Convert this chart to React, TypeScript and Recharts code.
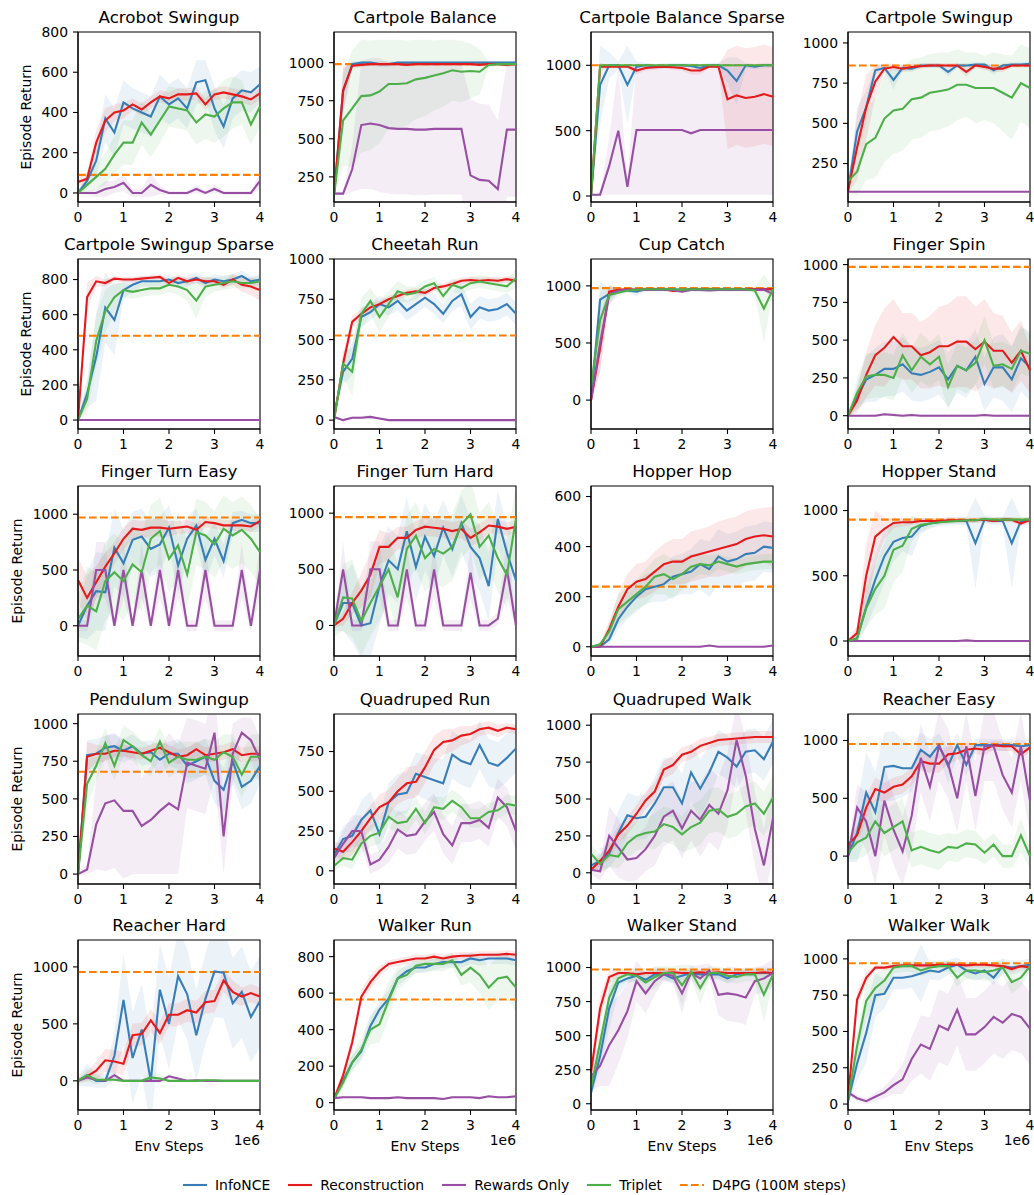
import React from 'react';
import { ComposedChart, Line, Area, XAxis, YAxis, ReferenceLine, ReferenceArea } from 'recharts';

// env steps, in units of 1e6
const steps = [0, 0.2, 0.4, 0.6, 0.8, 1, 1.2, 1.4, 1.6, 1.8, 2, 2.2, 2.4, 2.6, 2.8, 3, 3.2, 3.4, 3.6, 3.8, 4];

const seriesNames = ['InfoNCE', 'Reconstruction', 'Rewards Only', 'Triplet'];
const seriesColors = ['#377eb8', '#e41a1c', '#984ea3', '#4daf4a'];

const titles = [
  'Acrobot Swingup', 'Cartpole Balance', 'Cartpole Balance Sparse', 'Cartpole Swingup',
  'Cartpole Swingup Sparse', 'Cheetah Run', 'Cup Catch', 'Finger Spin',
  'Finger Turn Easy', 'Finger Turn Hard', 'Hopper Hop', 'Hopper Stand',
  'Pendulum Swingup', 'Quadruped Run', 'Quadruped Walk', 'Reacher Easy',
  'Reacher Hard', 'Walker Run', 'Walker Stand', 'Walker Walk',
];

// D4PG (100M steps) reference level, null where it is off the chart
const d4pg = [90, 990, 1000, 860, 480, 525, 980, 985, 970, 965, 240, 930, 680, null, null, 970, 955, 565, 985, 970];

const yLimits = [
  [-45, 800], [85, 1201], [-46, 1255], [11, 1068],
  [-51, 917], [-55, 1000], [-253, 1235], [-88, 1037],
  [-271, 1253], [-272, 1242], [-37, 642], [-115, 1188],
  [-66, 1064], [-83, 986], [-76, 1076], [-241, 1229],
  [-256, 1236], [-40, 891], [-46, 1202], [-41, 1130],
];

const yTicks = [
  [0, 200, 400, 600, 800], [250, 500, 750, 1000], [0, 500, 1000], [250, 500, 750, 1000],
  [0, 200, 400, 600, 800], [0, 250, 500, 750, 1000], [0, 500, 1000], [0, 250, 500, 750, 1000],
  [0, 500, 1000], [0, 500, 1000], [0, 200, 400, 600], [0, 500, 1000],
  [0, 250, 500, 750, 1000], [0, 250, 500, 750], [0, 250, 500, 750, 1000], [0, 500, 1000],
  [0, 500, 1000], [0, 200, 400, 600, 800], [0, 250, 500, 750, 1000], [0, 250, 500, 750, 1000],
];

// mean returns: [InfoNCE, Reconstruction, Rewards Only, Triplet]
const acrobotMean = [
  [0, 60, 160, 370, 300, 450, 420, 400, 380, 480, 440, 470, 420, 550, 560, 420, 330, 470, 510, 500, 540],
  [55, 70, 250, 360, 400, 410, 440, 415, 450, 480, 470, 490, 490, 495, 440, 490, 500, 490, 480, 465, 495],
  [0, 0, 0, 20, 30, 50, 0, 0, 40, 15, 0, 0, 0, 20, 0, 20, 0, 0, 0, 0, 60],
  [0, 40, 80, 120, 190, 250, 250, 350, 290, 360, 430, 420, 410, 350, 390, 380, 420, 450, 450, 340, 430],
];
const acrobotSpread = [
  [10, 40, 80, 120, 120, 110, 100, 100, 100, 110, 100, 100, 100, 110, 100, 110, 110, 100, 100, 100, 90],
  [20, 30, 60, 60, 40, 40, 30, 30, 30, 30, 30, 30, 30, 30, 30, 30, 30, 30, 30, 30, 30],
  [5, 10, 20, 40, 30, 40, 20, 20, 60, 20, 10, 10, 10, 20, 10, 20, 10, 10, 10, 10, 40],
  [10, 40, 60, 80, 90, 110, 110, 110, 110, 110, 100, 100, 100, 110, 120, 130, 140, 130, 110, 100, 100],
];

const balanceMean = [
  [130, 810, 990, 1000, 1000, 990, 990, 1000, 1000, 1000, 1000, 1000, 1000, 1000, 1000, 1000, 1000, 1000, 1000, 1000, 1000],
  [130, 820, 980, 985, 990, 990, 990, 990, 985, 990, 990, 990, 990, 990, 990, 990, 985, 990, 990, 985, 990],
  [140, 140, 300, 590, 600, 590, 570, 565, 565, 560, 560, 565, 565, 565, 565, 260, 230, 225, 170, 560, 560],
  [130, 620, 700, 780, 785, 810, 860, 860, 865, 890, 900, 915, 930, 950, 940, 945, 940, 985, 990, 990, 990],
];
const balanceSpread = [
  [10, 150, 20, 10, 10, 20, 20, 10, 10, 10, 10, 10, 10, 10, 10, 10, 10, 10, 10, 10, 10],
  [10, 150, 20, 15, 10, 10, 10, 10, 10, 10, 10, 10, 10, 10, 10, 10, 10, 10, 10, 10, 10],
  [10, 10, 150, 420, 430, 440, 430, 430, 430, 430, 430, 430, 430, 430, 430, 500, 500, 500, 450, 440, 440],
  [10, 300, 380, 370, 360, 340, 290, 290, 280, 260, 250, 230, 220, 200, 200, 180, 150, 20, 15, 15, 15],
];

const balanceSparseMean = [
  [0, 850, 1000, 1000, 850, 990, 1000, 990, 995, 1000, 1000, 995, 980, 1000, 1000, 960, 880, 1000, 990, 1000, 1000],
  [0, 990, 990, 990, 990, 960, 980, 985, 990, 985, 980, 960, 960, 990, 990, 740, 770, 750, 760, 780, 760],
  [10, 10, 230, 500, 70, 505, 505, 505, 505, 505, 505, 480, 505, 505, 505, 505, 505, 505, 505, 505, 505],
  [0, 1000, 1000, 1000, 1000, 1000, 1000, 1000, 1000, 1000, 1000, 1000, 1000, 1000, 1000, 1000, 1000, 1000, 1000, 1000, 1000],
];
const balanceSparseSpread = [
  [10, 300, 100, 30, 300, 40, 20, 20, 20, 20, 20, 20, 30, 20, 20, 100, 180, 20, 20, 20, 20],
  [10, 30, 10, 10, 10, 30, 20, 20, 10, 20, 20, 30, 30, 10, 10, 380, 380, 380, 380, 380, 380],
  [5, 5, 220, 490, 60, 495, 495, 495, 495, 495, 495, 470, 495, 495, 495, 495, 495, 495, 495, 495, 495],
  [5, 5, 5, 5, 5, 5, 5, 5, 5, 5, 5, 5, 5, 5, 5, 5, 5, 5, 5, 5, 5],
];

const swingupMean = [
  [80, 450, 600, 830, 845, 770, 845, 840, 860, 860, 860, 820, 860, 860, 865, 865, 830, 860, 865, 865, 870],
  [80, 350, 600, 760, 840, 850, 840, 850, 855, 860, 860, 860, 860, 820, 860, 850, 840, 840, 860, 860, 860],
  [75, 75, 75, 75, 75, 75, 75, 75, 75, 75, 75, 75, 75, 75, 75, 75, 75, 75, 75, 75, 75],
  [140, 200, 370, 410, 530, 580, 590, 650, 660, 690, 700, 710, 740, 740, 720, 720, 720, 690, 660, 750, 720],
];
const swingupSpread = [
  [20, 150, 100, 30, 20, 60, 20, 20, 15, 15, 15, 30, 15, 15, 15, 15, 30, 15, 15, 15, 15],
  [20, 200, 200, 100, 30, 20, 20, 20, 15, 15, 15, 15, 15, 30, 15, 20, 20, 20, 15, 15, 15],
  [5, 5, 5, 5, 5, 5, 5, 5, 5, 5, 5, 5, 5, 5, 5, 5, 5, 5, 5, 5, 5],
  [60, 150, 220, 250, 270, 270, 260, 250, 250, 240, 240, 230, 220, 200, 220, 200, 220, 240, 260, 240, 250],
];

const swingupSparseMean = [
  [0, 150, 360, 640, 570, 740, 770, 790, 790, 790, 800, 780, 790, 810, 780, 800, 790, 800, 820, 790, 800],
  [0, 700, 790, 780, 805, 800, 800, 805, 810, 815, 780, 810, 790, 800, 790, 790, 770, 800, 770, 760, 740],
  [0, 0, 0, 0, 0, 0, 0, 0, 0, 0, 0, 0, 0, 0, 0, 0, 0, 0, 0, 0, 0],
  [0, 120, 450, 620, 700, 740, 730, 740, 750, 750, 770, 760, 740, 680, 760, 770, 780, 790, 780, 780, 790],
];
const swingupSparseSpread = [
  [5, 80, 250, 200, 200, 50, 40, 30, 30, 30, 30, 30, 30, 30, 30, 30, 30, 30, 30, 30, 30],
  [5, 80, 30, 20, 15, 15, 15, 15, 15, 15, 20, 20, 20, 20, 20, 20, 20, 30, 40, 50, 60],
  [2, 2, 2, 2, 2, 2, 2, 2, 2, 2, 2, 2, 2, 2, 2, 2, 2, 2, 2, 2, 2],
  [5, 80, 150, 120, 80, 40, 40, 40, 40, 40, 40, 50, 60, 100, 60, 40, 40, 40, 30, 30, 30],
];

const cheetahMean = [
  [30, 300, 380, 640, 670, 720, 700, 740, 680, 720, 760, 720, 660, 740, 780, 640, 700, 680, 690, 720, 660],
  [0, 350, 610, 660, 700, 720, 750, 770, 790, 800, 790, 820, 830, 845, 865, 870, 865, 870, 865, 875, 865],
  [20, 0, 15, 15, 20, 10, 0, 0, 0, 0, 0, 0, 0, 0, 0, 0, 0, 0, 0, 0, 0],
  [0, 350, 300, 660, 740, 640, 720, 800, 780, 790, 830, 850, 770, 840, 820, 850, 860, 850, 840, 830, 880],
];
const cheetahSpread = [
  [10, 80, 100, 60, 50, 50, 50, 60, 60, 60, 60, 60, 60, 60, 70, 80, 70, 70, 70, 70, 70],
  [10, 60, 40, 30, 30, 20, 20, 20, 20, 20, 20, 20, 20, 20, 20, 20, 20, 20, 20, 20, 20],
  [10, 5, 10, 10, 10, 5, 2, 2, 2, 2, 2, 2, 2, 2, 2, 2, 2, 2, 2, 2, 2],
  [10, 80, 150, 100, 80, 100, 80, 60, 50, 40, 40, 40, 40, 40, 40, 40, 40, 40, 40, 40, 60],
];

const cupMean = [
  [0, 880, 930, 960, 960, 950, 970, 970, 970, 970, 965, 970, 965, 970, 970, 970, 970, 970, 970, 970, 970],
  [0, 450, 950, 965, 970, 965, 970, 970, 970, 955, 960, 970, 970, 970, 970, 965, 970, 970, 970, 970, 970],
  [0, 500, 920, 960, 965, 965, 965, 965, 965, 965, 950, 965, 965, 960, 965, 965, 965, 965, 965, 965, 930],
  [120, 700, 920, 940, 960, 965, 970, 970, 970, 970, 965, 970, 970, 970, 970, 970, 970, 970, 960, 800, 970],
];
const cupSpread = [
  [30, 150, 60, 20, 20, 40, 15, 15, 15, 15, 15, 15, 15, 15, 15, 15, 15, 15, 15, 15, 15],
  [30, 200, 60, 15, 15, 15, 15, 15, 15, 20, 15, 15, 15, 15, 15, 15, 15, 15, 15, 15, 15],
  [30, 250, 80, 20, 15, 15, 15, 15, 15, 15, 20, 15, 15, 15, 15, 15, 15, 15, 15, 15, 30],
  [100, 250, 80, 30, 20, 15, 15, 15, 15, 15, 15, 15, 15, 15, 15, 15, 15, 15, 30, 300, 20],
];

const spinMean = [
  [0, 120, 240, 270, 310, 310, 340, 280, 270, 290, 320, 240, 330, 300, 390, 210, 320, 320, 240, 380, 320],
  [0, 100, 270, 400, 450, 520, 460, 460, 400, 420, 460, 460, 490, 490, 440, 490, 430, 430, 350, 430, 300],
  [0, 0, 0, 0, 10, 5, 0, 5, 0, 0, 0, 0, 0, 0, 0, 5, 0, 0, 0, 0, 0],
  [0, 150, 260, 270, 270, 250, 400, 300, 390, 340, 390, 190, 330, 300, 350, 500, 330, 340, 310, 430, 410],
];
const spinSpread = [
  [10, 80, 150, 180, 180, 180, 180, 180, 180, 180, 180, 180, 180, 180, 180, 180, 200, 220, 220, 220, 220],
  [10, 80, 150, 200, 260, 250, 220, 220, 220, 240, 260, 280, 300, 300, 280, 280, 250, 230, 200, 200, 150],
  [5, 5, 5, 10, 10, 10, 10, 10, 10, 10, 10, 10, 10, 10, 10, 10, 10, 10, 10, 10, 10],
  [10, 100, 150, 150, 150, 150, 150, 150, 160, 150, 150, 150, 150, 150, 150, 160, 150, 150, 150, 150, 150],
];

const turnEasyMean = [
  [0, 180, 310, 300, 700, 560, 770, 800, 690, 730, 880, 540, 780, 900, 590, 780, 580, 920, 950, 920, 920],
  [410, 250, 390, 530, 650, 780, 870, 860, 880, 880, 870, 880, 890, 860, 930, 920, 900, 900, 900, 890, 940],
  [0, 0, 500, 500, 0, 500, 0, 500, 0, 500, 0, 500, 0, 0, 500, 0, 0, 0, 500, 0, 500],
  [60, 180, 130, 400, 480, 400, 550, 480, 780, 850, 600, 720, 460, 840, 810, 730, 870, 810, 860, 780, 660],
];
const turnEasySpread = [
  [100, 300, 350, 350, 350, 300, 250, 250, 250, 250, 200, 250, 200, 150, 200, 150, 150, 100, 80, 80, 80],
  [200, 200, 150, 120, 100, 100, 80, 80, 80, 80, 70, 60, 60, 60, 50, 50, 50, 50, 50, 50, 50],
  [50, 50, 250, 250, 50, 250, 50, 250, 50, 250, 50, 250, 50, 50, 250, 50, 50, 50, 250, 50, 250],
  [200, 350, 350, 350, 350, 350, 350, 350, 300, 300, 300, 300, 300, 300, 300, 300, 300, 300, 300, 300, 300],
];

const turnHardMean = [
  [0, 200, 200, 0, 20, 350, 580, 500, 840, 520, 790, 620, 870, 680, 910, 700, 600, 350, 950, 650, 400],
  [0, 60, 200, 310, 450, 700, 700, 780, 780, 850, 880, 870, 860, 840, 860, 780, 830, 890, 880, 860, 880],
  [0, 500, 0, 0, 500, 500, 0, 0, 500, 0, 0, 500, 0, 0, 0, 470, 0, 0, 60, 500, 0],
  [0, 250, 240, 40, 200, 350, 500, 250, 680, 800, 600, 680, 640, 700, 900, 990, 700, 800, 600, 450, 950],
];
const turnHardSpread = [
  [50, 250, 350, 300, 300, 350, 300, 300, 300, 300, 300, 300, 250, 250, 250, 250, 300, 300, 250, 250, 300],
  [20, 60, 100, 150, 200, 150, 120, 100, 100, 80, 80, 80, 80, 80, 80, 80, 80, 70, 60, 60, 60],
  [20, 250, 50, 50, 250, 250, 50, 50, 250, 50, 50, 250, 50, 50, 50, 230, 50, 50, 50, 250, 50],
  [100, 300, 350, 300, 300, 300, 300, 300, 300, 300, 300, 300, 300, 300, 300, 300, 300, 300, 300, 300, 300],
];

const hopMean = [
  [0, 0, 30, 110, 160, 200, 230, 240, 250, 280, 290, 300, 330, 310, 360, 340, 350, 370, 375, 400, 395],
  [0, 0, 70, 160, 230, 260, 270, 300, 330, 340, 340, 360, 370, 380, 390, 400, 410, 430, 440, 445, 440],
  [0, 0, 0, 0, 0, 0, 0, 0, 0, 0, 0, 0, 0, 5, 0, 0, 0, 0, 0, 0, 5],
  [0, 10, 60, 150, 180, 210, 240, 280, 290, 270, 290, 320, 330, 325, 340, 330, 320, 330, 335, 340, 340],
];
const hopSpread = [
  [2, 5, 20, 40, 50, 60, 60, 60, 70, 80, 80, 90, 100, 110, 110, 110, 110, 110, 110, 100, 100],
  [2, 5, 30, 50, 60, 70, 70, 80, 80, 90, 90, 100, 100, 100, 110, 110, 110, 110, 110, 110, 120],
  [2, 2, 2, 2, 2, 2, 2, 2, 2, 2, 2, 2, 2, 2, 2, 2, 2, 2, 2, 2, 2],
  [2, 10, 40, 60, 60, 60, 70, 70, 80, 80, 60, 50, 40, 40, 30, 30, 30, 30, 30, 30, 30],
];

const standMean = [
  [0, 20, 260, 470, 650, 760, 790, 800, 880, 900, 910, 920, 920, 920, 750, 930, 920, 920, 750, 920, 920],
  [0, 60, 500, 800, 860, 905, 910, 910, 920, 920, 920, 925, 925, 925, 925, 930, 920, 930, 930, 900, 930],
  [0, 0, 0, 0, 0, 0, 0, 0, 0, 0, 0, 0, 0, 5, 0, 0, 0, 0, 0, 0, 0],
  [0, 20, 250, 400, 500, 700, 730, 860, 890, 900, 910, 915, 920, 925, 925, 935, 930, 930, 930, 930, 930],
];
const standSpread = [
  [10, 30, 150, 200, 200, 150, 100, 150, 60, 40, 30, 30, 30, 30, 350, 30, 30, 30, 350, 30, 30],
  [10, 60, 250, 200, 80, 40, 30, 20, 20, 20, 20, 20, 20, 20, 20, 20, 20, 20, 20, 20, 20],
  [5, 5, 5, 5, 5, 5, 5, 5, 5, 5, 5, 5, 5, 5, 5, 5, 5, 5, 5, 5, 5],
  [10, 30, 150, 200, 250, 250, 200, 100, 50, 30, 20, 20, 20, 20, 20, 20, 20, 20, 20, 20, 20],
];

const pendulumMean = [
  [0, 790, 800, 840, 850, 820, 850, 800, 810, 760, 800, 800, 720, 750, 780, 620, 560, 750, 580, 620, 720],
  [0, 780, 800, 800, 820, 820, 810, 800, 820, 840, 810, 780, 790, 830, 790, 800, 810, 830, 790, 800, 800],
  [0, 30, 330, 470, 490, 420, 420, 320, 360, 420, 470, 430, 740, 720, 700, 940, 250, 800, 940, 890, 760],
  [0, 600, 720, 870, 720, 890, 850, 790, 750, 880, 740, 780, 760, 760, 780, 760, 810, 780, 660, 780, 780],
];
const pendulumSpread = [
  [10, 100, 100, 80, 80, 80, 80, 80, 80, 100, 80, 100, 120, 120, 120, 150, 150, 150, 150, 150, 120],
  [10, 100, 60, 50, 40, 40, 40, 40, 40, 40, 50, 50, 50, 50, 50, 50, 50, 50, 50, 50, 50],
  [10, 30, 300, 450, 450, 450, 420, 320, 360, 420, 470, 430, 300, 300, 300, 300, 250, 200, 100, 150, 150],
  [10, 150, 100, 100, 100, 100, 100, 100, 100, 100, 100, 100, 120, 120, 120, 120, 120, 150, 150, 150, 150],
];

const quadRunMean = [
  [100, 200, 220, 320, 380, 230, 430, 480, 490, 610, 590, 570, 550, 730, 690, 670, 790, 680, 660, 710, 770],
  [140, 120, 180, 250, 330, 400, 430, 500, 550, 560, 650, 760, 810, 820, 850, 860, 890, 900, 880, 900, 890],
  [80, 170, 250, 250, 40, 70, 150, 260, 220, 230, 310, 370, 230, 160, 300, 300, 320, 270, 460, 400, 250],
  [30, 80, 70, 170, 220, 240, 340, 300, 310, 390, 300, 400, 390, 440, 400, 330, 330, 370, 380, 420, 410],
];
const quadRunSpread = [
  [40, 80, 100, 120, 120, 120, 120, 130, 130, 130, 140, 140, 150, 150, 150, 150, 150, 150, 150, 150, 150],
  [40, 60, 80, 80, 80, 80, 80, 80, 100, 100, 100, 90, 80, 70, 60, 50, 40, 40, 40, 30, 30],
  [40, 80, 100, 100, 60, 60, 100, 120, 120, 120, 120, 120, 120, 120, 120, 120, 120, 120, 120, 120, 120],
  [30, 50, 60, 60, 70, 70, 70, 70, 70, 70, 70, 70, 70, 70, 70, 60, 60, 60, 60, 60, 60],
];

const quadWalkMean = [
  [50, 80, 130, 270, 390, 370, 380, 470, 580, 580, 470, 680, 570, 680, 820, 780, 720, 820, 830, 770, 890],
  [20, 80, 150, 260, 320, 400, 490, 550, 700, 730, 800, 820, 860, 880, 900, 905, 910, 915, 920, 920, 920],
  [20, 10, 250, 170, 90, 100, 160, 250, 380, 420, 300, 420, 360, 460, 400, 560, 900, 660, 300, 50, 370],
  [130, 60, 120, 110, 200, 250, 270, 280, 330, 310, 260, 310, 340, 420, 430, 380, 400, 450, 470, 400, 510],
];
const quadWalkSpread = [
  [30, 60, 100, 150, 150, 150, 150, 180, 200, 200, 200, 200, 200, 180, 150, 150, 150, 150, 150, 150, 150],
  [20, 40, 60, 60, 60, 60, 60, 60, 60, 60, 50, 50, 50, 40, 40, 40, 40, 40, 40, 40, 40],
  [30, 60, 200, 200, 150, 150, 150, 200, 200, 200, 200, 200, 250, 250, 250, 250, 250, 250, 250, 250, 250],
  [60, 60, 80, 80, 100, 100, 100, 120, 120, 120, 120, 150, 150, 150, 150, 150, 150, 150, 150, 150, 150],
];

const reacherEasyMean = [
  [0, 200, 550, 380, 770, 780, 760, 760, 920, 860, 960, 780, 960, 790, 960, 960, 960, 960, 960, 950, 960],
  [100, 180, 420, 580, 550, 600, 620, 690, 820, 800, 800, 880, 890, 920, 930, 920, 960, 950, 950, 880, 940],
  [0, 420, 300, 0, 480, 230, 40, 350, 850, 600, 950, 800, 500, 950, 520, 950, 950, 700, 550, 950, 480],
  [30, 120, 160, 300, 200, 250, 300, 50, 80, 50, 30, 80, 70, 110, 100, 30, 100, 0, 0, 180, 0],
];
const reacherEasySpread = [
  [50, 250, 350, 350, 300, 300, 250, 200, 150, 150, 100, 150, 100, 100, 50, 50, 50, 50, 50, 50, 50],
  [60, 80, 100, 100, 80, 80, 80, 80, 80, 80, 80, 80, 60, 60, 50, 50, 40, 40, 40, 50, 40],
  [30, 200, 250, 250, 300, 300, 300, 300, 300, 300, 300, 300, 300, 300, 300, 300, 300, 300, 300, 300, 300],
  [60, 150, 150, 200, 200, 200, 200, 150, 150, 150, 150, 120, 120, 120, 120, 100, 100, 100, 100, 150, 100],
];

const reacherHardMean = [
  [0, 50, 0, 0, 220, 710, 200, 450, 0, 800, 500, 920, 760, 400, 720, 960, 950, 680, 780, 560, 700],
  [0, 40, 90, 180, 170, 150, 400, 410, 530, 420, 580, 580, 620, 600, 690, 700, 880, 780, 740, 770, 740],
  [0, 30, 10, 0, 50, 0, 0, 0, 0, 0, 40, 20, 0, 5, 0, 0, 0, 0, 0, 0, 0],
  [0, 50, 10, 10, 10, 0, 0, 0, 30, 20, 0, 0, 0, 0, 5, 5, 0, 0, 0, 0, 0],
];
const reacherHardSpread = [
  [40, 100, 60, 60, 200, 400, 400, 400, 400, 400, 400, 400, 400, 400, 400, 400, 400, 400, 400, 400, 400],
  [20, 40, 80, 100, 100, 100, 100, 100, 100, 100, 100, 100, 100, 100, 100, 100, 100, 100, 80, 80, 80],
  [5, 20, 10, 5, 30, 5, 5, 5, 5, 5, 20, 10, 5, 5, 5, 5, 5, 5, 5, 5, 5],
  [20, 60, 40, 20, 20, 10, 10, 10, 40, 40, 10, 10, 10, 10, 10, 10, 10, 10, 10, 10, 10],
];

const walkerRunMean = [
  [20, 120, 220, 280, 420, 510, 570, 680, 720, 740, 740, 760, 770, 770, 770, 790, 780, 790, 790, 790, 780],
  [20, 150, 330, 580, 660, 720, 760, 770, 780, 790, 790, 800, 790, 800, 805, 805, 810, 810, 810, 815, 810],
  [25, 30, 30, 30, 25, 25, 25, 30, 25, 25, 25, 25, 20, 30, 30, 30, 25, 35, 30, 30, 35],
  [20, 110, 220, 290, 400, 430, 560, 680, 700, 750, 760, 760, 760, 780, 700, 740, 700, 630, 680, 690, 630],
];
const walkerRunSpread = [
  [10, 30, 40, 40, 50, 50, 50, 40, 40, 30, 30, 30, 30, 30, 30, 30, 30, 30, 30, 30, 30],
  [10, 30, 40, 40, 40, 30, 20, 20, 20, 20, 20, 20, 20, 20, 20, 20, 20, 20, 20, 20, 20],
  [5, 5, 5, 5, 5, 5, 5, 5, 5, 5, 5, 5, 5, 5, 5, 5, 5, 5, 5, 5, 5],
  [10, 30, 50, 60, 80, 100, 100, 60, 40, 40, 40, 40, 40, 40, 60, 80, 100, 120, 120, 120, 130],
];

const walkerStandMean = [
  [80, 350, 700, 890, 920, 940, 910, 950, 950, 920, 940, 960, 950, 950, 950, 920, 950, 960, 960, 960, 960],
  [230, 700, 930, 960, 960, 950, 960, 960, 960, 965, 960, 960, 965, 960, 965, 960, 960, 960, 960, 965, 960],
  [200, 280, 430, 540, 680, 900, 810, 900, 950, 940, 810, 960, 920, 980, 800, 810, 800, 780, 900, 920, 960],
  [120, 450, 780, 920, 950, 940, 890, 930, 960, 960, 870, 970, 850, 960, 960, 940, 930, 950, 950, 800, 950],
];
const walkerStandSpread = [
  [30, 100, 150, 80, 40, 30, 30, 30, 40, 40, 40, 30, 30, 30, 30, 40, 30, 30, 30, 30, 30],
  [60, 100, 50, 20, 20, 20, 20, 20, 20, 20, 20, 20, 20, 20, 20, 20, 20, 20, 20, 20, 20],
  [100, 150, 300, 250, 200, 150, 150, 100, 50, 50, 150, 50, 100, 50, 150, 200, 200, 200, 100, 100, 100],
  [40, 100, 100, 60, 50, 50, 80, 80, 50, 50, 150, 50, 120, 50, 50, 50, 50, 50, 50, 200, 50],
];

const walkerWalkMean = [
  [20, 280, 490, 750, 760, 870, 870, 880, 900, 920, 910, 940, 960, 920, 900, 920, 870, 950, 940, 950, 960],
  [30, 720, 870, 940, 940, 950, 955, 955, 955, 955, 960, 960, 960, 955, 960, 960, 955, 950, 930, 950, 940],
  [80, 40, 20, 50, 80, 130, 170, 310, 410, 380, 540, 510, 650, 480, 480, 530, 600, 560, 620, 600, 520],
  [30, 400, 710, 800, 850, 940, 950, 950, 920, 940, 950, 950, 870, 920, 920, 910, 920, 940, 840, 870, 950],
];
const walkerWalkSpread = [
  [20, 120, 200, 150, 100, 80, 80, 80, 200, 60, 60, 50, 50, 50, 50, 50, 50, 50, 50, 40, 40],
  [20, 60, 40, 20, 20, 20, 20, 20, 20, 20, 20, 20, 20, 20, 20, 20, 20, 20, 20, 20, 20],
  [20, 20, 20, 30, 40, 60, 100, 150, 200, 220, 250, 250, 250, 250, 250, 250, 250, 250, 250, 250, 250],
  [20, 100, 120, 100, 80, 40, 40, 40, 40, 40, 40, 40, 60, 60, 60, 60, 60, 60, 80, 60, 40],
];

const panelMeans = [
  acrobotMean, balanceMean, balanceSparseMean, swingupMean,
  swingupSparseMean, cheetahMean, cupMean, spinMean,
  turnEasyMean, turnHardMean, hopMean, standMean,
  pendulumMean, quadRunMean, quadWalkMean, reacherEasyMean,
  reacherHardMean, walkerRunMean, walkerStandMean, walkerWalkMean,
];
const panelSpreads = [
  acrobotSpread, balanceSpread, balanceSparseSpread, swingupSpread,
  swingupSparseSpread, cheetahSpread, cupSpread, spinSpread,
  turnEasySpread, turnHardSpread, hopSpread, standSpread,
  pendulumSpread, quadRunSpread, quadWalkSpread, reacherEasySpread,
  reacherHardSpread, walkerRunSpread, walkerStandSpread, walkerWalkSpread,
];

// layout (px)
const colLeft = [78, 334, 591, 848];
const rowTop = [32, 259, 486, 714, 940];
const plotW = 182;
const plotH = 170;
const yAxisW = 50;
const mTop = 10;
const mRight = 10;
const xAxisH = 25;
const ylabelX = [26, 26, 17, 17, 17];
const font = '"DejaVu Sans", Verdana, sans-serif';

function buildRows(means: number[][], spreads: number[][]) {
  return steps.map((x, i) => {
    const row: any = { x };
    means.forEach((m, k) => {
      row['m' + k] = m[i];
      row['b' + k] = [m[i] - spreads[k][i], m[i] + spreads[k][i]];
    });
    return row;
  });
}

const tickStyle = { fill: '#000', fontSize: 13.9, fontFamily: font };

function Panel({ idx }: { idx: number }) {
  const r = Math.floor(idx / 4);
  const c = idx % 4;
  const rows = buildRows(panelMeans[idx], panelSpreads[idx]);
  const [lo, hi] = yLimits[idx];
  const left = colLeft[c];
  const top = rowTop[r];
  const ref = d4pg[idx];
  return (
    <>
      <div
        style={{
          position: 'absolute', left: left + plotW / 2 - 150, top: top - 25, width: 300, textAlign: 'center',
          fontSize: 16.7, lineHeight: '20px', fontFamily: font, color: '#000', whiteSpace: 'nowrap',
        }}
      >
        {titles[idx]}
      </div>
      {c === 0 && (
        <div
          style={{
            position: 'absolute', left: ylabelX[r], top: top + plotH / 2,
            transform: 'translate(-50%, -50%) rotate(-90deg)', fontSize: 13.9,
            fontFamily: font, whiteSpace: 'nowrap', color: '#000',
          }}
        >
          Episode Return
        </div>
      )}
      {r === 4 && (
        <>
          <div
            style={{
              position: 'absolute', left, top: 1138, width: plotW, textAlign: 'center',
              fontSize: 13.9, lineHeight: '16px', fontFamily: font, color: '#000',
            }}
          >
            Env Steps
          </div>
          <div
            style={{
              position: 'absolute', left: left + plotW - 60, top: 1132, width: 60, textAlign: 'right',
              fontSize: 13.9, lineHeight: '16px', fontFamily: font, color: '#000',
            }}
          >
            1e6
          </div>
        </>
      )}
      <div style={{ position: 'absolute', left: left - yAxisW, top: top - mTop }}>
        <ComposedChart
          width={yAxisW + plotW + mRight}
          height={mTop + plotH + xAxisH}
          data={rows}
          margin={{ top: mTop, right: mRight, left: 0, bottom: 0 }}
        >
          <XAxis
            dataKey="x" type="number" domain={[0, 4]} ticks={[0, 1, 2, 3, 4]} height={xAxisH}
            tick={tickStyle} tickSize={5} tickMargin={5}
            axisLine={{ stroke: '#000', strokeWidth: 1.1 }} tickLine={{ stroke: '#000', strokeWidth: 1.1 }}
          />
          <YAxis
            type="number" domain={[lo, hi]} ticks={yTicks[idx]} allowDataOverflow width={yAxisW}
            tick={tickStyle} tickSize={5} tickMargin={5}
            axisLine={{ stroke: '#000', strokeWidth: 1.1 }} tickLine={{ stroke: '#000', strokeWidth: 1.1 }}
          />
          {seriesColors.map((col, k) => (
            <Area
              key={'b' + k} dataKey={'b' + k} type="linear" stroke="none" fill={col}
              fillOpacity={0.1} isAnimationActive={false} activeDot={false}
            />
          ))}
          {ref !== null && (
            <ReferenceLine y={ref} stroke="#ff7f00" strokeWidth={2.1} strokeDasharray="7.7 3.3" />
          )}
          {seriesColors.map((col, k) => (
            <Line
              key={'m' + k} dataKey={'m' + k} name={seriesNames[k]} type="linear" stroke={col}
              strokeWidth={2.1} dot={false} activeDot={false} isAnimationActive={false}
            />
          ))}
          <ReferenceArea x1={0} x2={4} y1={lo} y2={hi} fill="none" stroke="#000" strokeWidth={1.1} />
        </ComposedChart>
      </div>
    </>
  );
}

function LegendItem({ color, label, dashed }: { color: string; label: string; dashed?: boolean }) {
  return (
    <div style={{ display: 'flex', alignItems: 'center', marginRight: 18 }}>
      <svg width={24} height={10} style={{ marginRight: 8 }}>
        <line
          x1={0} y1={5} x2={24} y2={5} stroke={color} strokeWidth={2.1}
          strokeDasharray={dashed ? '7.7 3.3' : undefined}
        />
      </svg>
      <span>{label}</span>
    </div>
  );
}

export default function App() {
  return (
    <div
      style={{
        position: 'absolute', left: 0, top: 0, width: 1034, height: 1195,
        background: '#fff', overflow: 'hidden',
      }}
    >
      {titles.map((_, i) => (
        <Panel key={i} idx={i} />
      ))}
      <div
        style={{
          position: 'absolute', left: 183, top: 1176, display: 'flex', alignItems: 'center',
          fontSize: 13.9, lineHeight: '18px', fontFamily: font, color: '#000', whiteSpace: 'nowrap',
        }}
      >
        {seriesNames.map((n, k) => (
          <LegendItem key={n} color={seriesColors[k]} label={n} />
        ))}
        <LegendItem color="#ff7f00" label="D4PG (100M steps)" dashed />
      </div>
    </div>
  );
}
